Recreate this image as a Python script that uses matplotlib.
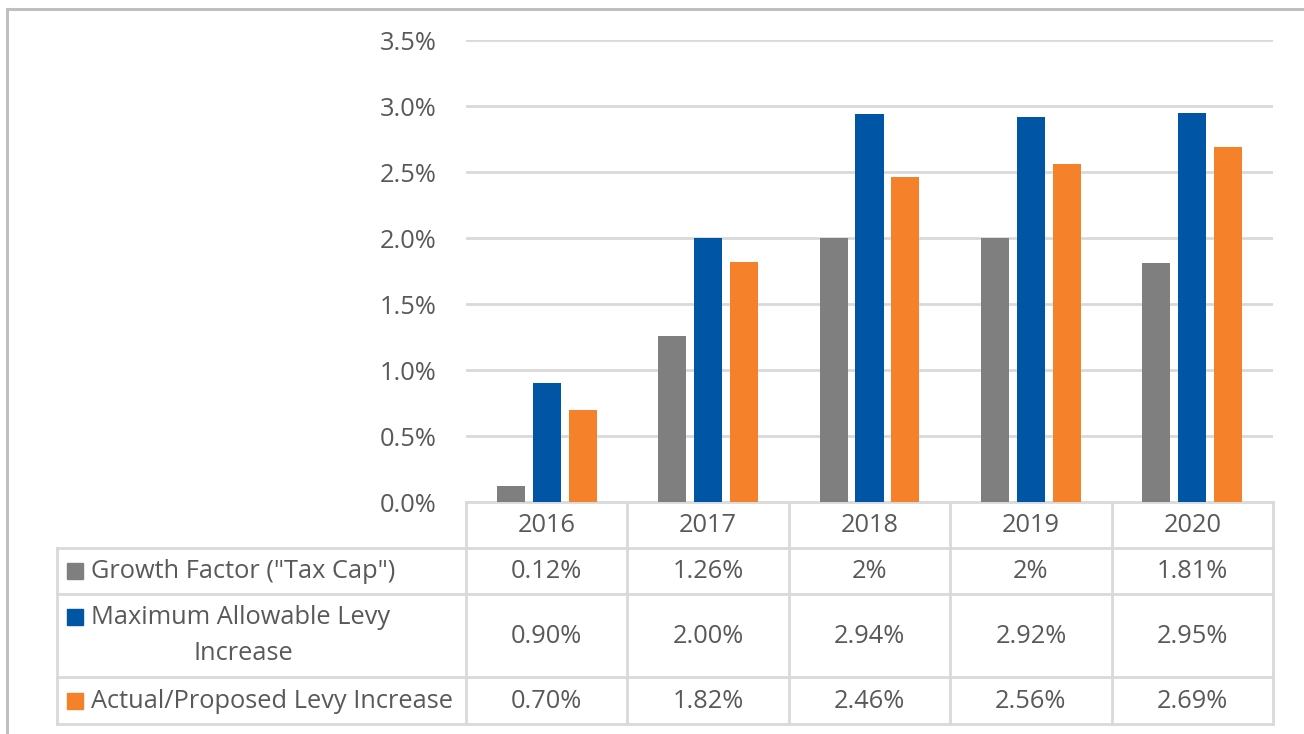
import matplotlib.pyplot as plt
from matplotlib.lines import Line2D
from matplotlib.patches import Rectangle
import numpy as np

years = ["2016", "2017", "2018", "2019", "2020"]
growth = [0.12, 1.26, 2, 2, 1.81]
max_levy = [0.90, 2.00, 2.94, 2.92, 2.95]
actual = [0.70, 1.82, 2.46, 2.56, 2.69]

series_names = ['Growth Factor ("Tax Cap")', "Maximum Allowable Levy\nIncrease",
                "Actual/Proposed Levy Increase"]
series_labels = [[f"{v:g}%" for v in growth],
                 [f"{v:.2f}%" for v in max_levy],
                 [f"{v:.2f}%" for v in actual]]
colors = ["#7F7F7F", "#0055A5", "#F5822A"]

TXT = "#595959"
GRID = "#D9D9D9"
FONT = "Open Sans"
FS = 18.3

W, H = 1304, 734
fig = plt.figure(figsize=(W / 100, H / 100), dpi=100)

# bar axes, placed in pixel terms
x0, x1, ytop, ybot = 466, 1273, 40, 502
ax = fig.add_axes([x0 / W, (H - ybot) / H, (x1 - x0) / W, (ybot - ytop) / H])
x = np.arange(len(years))
bw = 0.1735
off = 0.223
for i, (vals, c) in enumerate(zip([growth, max_levy, actual], colors)):
    ax.bar(x + (i - 1) * off, vals, width=bw, color=c, zorder=3)
ax.set_xlim(-0.5, len(years) - 0.5)
ax.set_ylim(0, 3.5)
ax.set_yticks(np.arange(0, 3.51, 0.5))
ax.set_yticklabels([f"{t:.1f}%" for t in np.arange(0, 3.51, 0.5)],
                   fontsize=FS, color=TXT, family=FONT)
ax.tick_params(axis="y", length=0, pad=21)
ax.set_xticks([])
ax.grid(axis="y", color=GRID, linewidth=2, zorder=0)
for s in ax.spines.values():
    s.set_visible(False)

# table overlay in pixel coordinates
tb = fig.add_axes([0, 0, 1, 1], zorder=-1)
tb.set_xlim(0, W)
tb.set_ylim(H, 0)
tb.axis("off")

def line(xa, ya, xb, yb, c=GRID, lw=2):
    tb.add_line(Line2D([xa, xb], [ya, yb], color=c, linewidth=lw))

# figure frame
line(7, 9, W, 9, c="#BFBFBF", lw=2.2)
line(7, 9, 7, H, c="#BFBFBF", lw=2.2)

tleft = 57
rows = [502, 548, 594, 677, 724]
colw = (x1 - x0) / len(years)
cols = [x0 + k * colw for k in range(len(years) + 1)]

line(x0, rows[0], x1, rows[0])
for r in rows[1:]:
    line(tleft, r, x1, r)
for c in cols:
    line(c, rows[0], c, rows[-1])
line(tleft, rows[1], tleft, rows[-1])

for k, yr in enumerate(years):
    tb.text((cols[k] + cols[k + 1]) / 2, (rows[0] + rows[1]) / 2 + 1, yr,
            ha="center", va="center", fontsize=FS, color=TXT, family=FONT)

for j in range(3):
    yc = (rows[j + 1] + rows[j + 2]) / 2
    if "\n" in series_names[j]:
        first, second = series_names[j].split("\n")
        tb.add_patch(Rectangle((67, 609), 16, 16, color=colors[j]))
        tb.text(91, 618, first, ha="left", va="center",
                fontsize=FS, color=TXT, family=FONT)
        tb.text(243, 653, second, ha="center", va="center",
                fontsize=FS, color=TXT, family=FONT)
    else:
        tb.add_patch(Rectangle((67, yc - 8), 16, 16, color=colors[j]))
        tb.text(91, yc + 1, series_names[j], ha="left", va="center",
                fontsize=FS, color=TXT, family=FONT)
    for k in range(len(years)):
        tb.text((cols[k] + cols[k + 1]) / 2, yc + 1, series_labels[j][k],
                ha="center", va="center", fontsize=FS, color=TXT, family=FONT)

fig.savefig("out.png", dpi=100)
